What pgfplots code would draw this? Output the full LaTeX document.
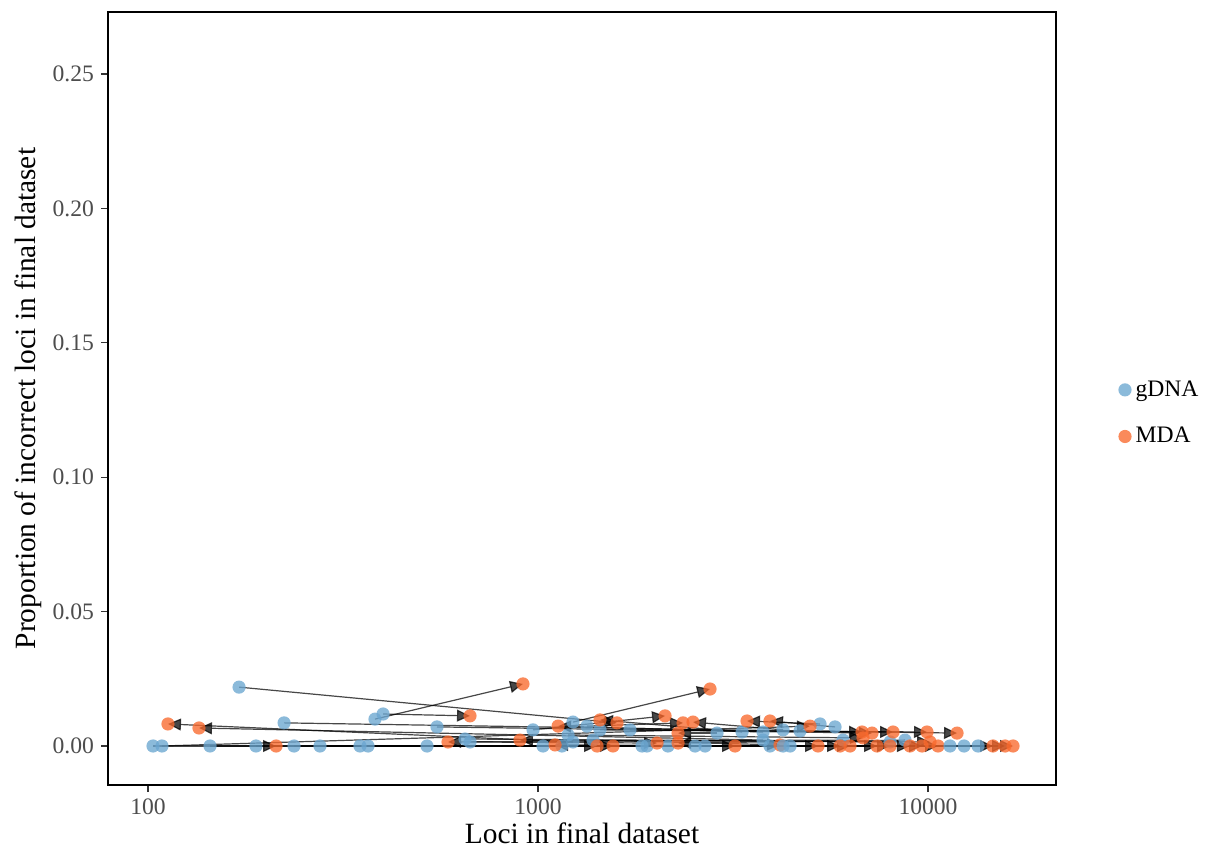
\documentclass[border=0pt]{standalone}
\usepackage{fontspec}
\setmainfont{Liberation Serif}
\usepackage{pgfplots}
\usepackage{pgfplotstable}
\pgfplotsset{compat=1.18}
\usetikzlibrary{arrows.meta}

\definecolor{gdna}{RGB}{107,166,208}
\definecolor{mda}{RGB}{249,105,45}
\definecolor{ticktext}{RGB}{77,77,77}

% Each row: one sample prepared both ways (gDNA -> MDA)
\pgfplotstableread{
gx     gy      mx     my
103    0       213    0
108.6  0       4983   0.0074
144.2  0       3200   0
171.2  0.0219  1594   0.0086
189.2  0       5949   0
223.3  0.0086  6773   0.0052
236.8  0       7400   0
276    0       8990   0
349.6  0       10607  0
366.6  0       1557   0
382    0.0100  915    0.0231
400.6  0.0119  669.4  0.0112
519.3  0       1417   0
550.8  0.0071  7185   0.0048
649.9  0.0026  10120  0.0015
669.4  0.0015  2019   0.0011
971    0.0060  2117   0.0112
1030   0       5223   0
1152   0       6310   0
1194   0.0041  6812   0.0030
1229   0.0089  2761   0.0212
1229   0.0015  112.5  0.0082
1335   0.0074  2354   0.0086
1384   0.0022  4174   0.0004
1442   0.0060  8136   0.0052
1721   0.0060  9940   0.0052
1848   0       7994   0
1903   0       9652   0
2154   0       14678  0
2527   0       15757  0
2681   0       16520  0
2877   0.0048  2286   0.0048
3336   0.0052  1442   0.0097
3776   0.0052  1126   0.0074
3776   0.0022  135.1  0.0067
3934   0       1106   0.0004
4249   0.0060  2497   0.0089
6055   0.0022  587.8  0.0015
7994   0.0015  899    0.0022
8730   0.0022  2286   0.0011
4697   0.0056  11869  0.0048
5285   0.0082  3435   0.0093
5775   0.0071  3934   0.0093
}\pairs

% gDNA libraries without an MDA counterpart
\pgfplotstableread{
gx     gy
4249   0
4429   0
11387  0
12370  0
13435  0
}\single

\begin{document}
\begin{tikzpicture}
\begin{axis}[
  scale only axis,
  width=474pt, height=386.5pt,
  xmode=log,
  xmin=78.97, xmax=21290,
  ymin=-0.01451, ymax=0.27307,
  xtick={100,1000,10000},
  xticklabels={100,1000,10000},
  xminorticks=false,
  ytick={0,0.05,0.1,0.15,0.2,0.25},
  /pgf/number format/assume math mode=true,
  y tick label style={/pgf/number format/.cd,fixed,fixed zerofill,precision=2,/tikz/.cd},
  tick label style={font=\fontsize{11.8}{13}\selectfont, text=ticktext},
  label style={font=\fontsize{14.7}{17}\selectfont},
  xlabel={Loci in final dataset},
  ylabel={Proportion of incorrect loci in final dataset},
  xlabel style={at={(axis description cs:0.5,-0.0621)}, anchor=center},
  ylabel style={at={(axis description cs:-0.0844,0.5)}, anchor=center},
  axis line style={line width=0.8pt},
  tick style={line width=0.6pt, black!80},
  major tick length=3.5pt,
  tick align=outside,
  xtick pos=bottom, ytick pos=left,
  legend cell align=left,
  legend style={draw=none, fill=none, inner sep=0pt,
    at={(axis description cs:1,0.481)}, anchor=west, xshift=31pt,
    font=\fontsize{11.8}{13}\selectfont, row sep=10pt},
  pt/.style={only marks, mark=*, mark size=3.3pt,
    mark options={draw opacity=0, fill=#1, fill opacity=0.78},
    legend image code/.code={\draw[mark repeat=2,mark phase=2,##1] plot coordinates {(0pt,0pt)(5pt,0pt)(12.5pt,0pt)};}},
  pairarrow/.style={black, opacity=0.72, line width=0.6pt,
    -{Triangle[length=6.5pt,width=6pt]}},
]
\addplot[pt=gdna] table[x=gx,y=gy]{\pairs};
\addlegendentry{gDNA}
\addplot[pt=mda] table[x=mx,y=my]{\pairs};
\addlegendentry{MDA}
\addplot[pt=gdna, forget plot] table[x=gx,y=gy]{\single};

\pgfplotstablegetrowsof{\pairs}
\pgfmathtruncatemacro\lastrow{\pgfplotsretval-1}
\pgfplotsforeachungrouped \i in {0,...,\lastrow}{
  \pgfplotstablegetelem{\i}{gx}\of\pairs \let\gx\pgfplotsretval
  \pgfplotstablegetelem{\i}{gy}\of\pairs \let\gy\pgfplotsretval
  \pgfplotstablegetelem{\i}{mx}\of\pairs \let\mx\pgfplotsretval
  \pgfplotstablegetelem{\i}{my}\of\pairs \let\my\pgfplotsretval
  \edef\arrowcmd{\noexpand\addplot[pairarrow, forget plot] coordinates {(\gx,\gy) (\mx,\my)};}
  \arrowcmd
}
\end{axis}
\pgfresetboundingbox
\path ([shift={(-54pt,-31pt)}]current axis.south west)
  rectangle ([shift={(83.5pt,6pt)}]current axis.north east);
\end{tikzpicture}
\end{document}
